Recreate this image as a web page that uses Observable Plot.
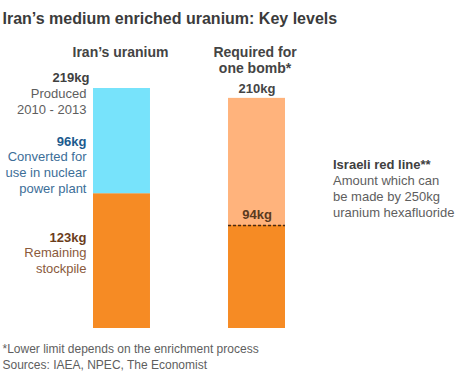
<!DOCTYPE html>
<html><head><meta charset="utf-8">
<script src="https://cdn.jsdelivr.net/npm/d3@7"></script>
<script src="https://cdn.jsdelivr.net/npm/@observablehq/plot@0.6"></script>
<style>
body{margin:0;background:#fff;overflow:hidden}
#chart svg{display:block;font-family:"Liberation Sans",Arial,Helvetica,sans-serif}
</style>
</head><body><div id="chart"></div><script>
// ---- data ----
const bars = ["Iran's uranium", "Required for one bomb*"];
const segBar = [bars[0], bars[0], bars[1], bars[1]];
const segName = ["Remaining stockpile", "Converted", "Lower limit", "Upper limit"];
const segFrom = [0, 123, 0, 94];
const segTo = [123, 219, 94, 210];
const redLine = 164;
const lowerLimit = 94;
const upperLimit = 210;
const produced = 219;
const remaining = 123;
const title = "Iran\u2019s medium enriched uranium: Key levels";
const barTitles = ["Iran\u2019s uranium", "Required for\none bomb*"];
const leftHeads = ["219kg", "96kg", "123kg"];
const leftBodies = ["Produced\n2010 - 2013", "Converted for\nuse in nuclear\npower plant", "Remaining\nstockpile"];
const redHead = "Israeli red line**";
const redBody = "Amount which can\nbe made by 250kg\nuranium hexafluoride";
const footer = "*Lower limit depends on the enrichment process\nSources: IAEA, NPEC, The Economist";

const segs = segBar.map((b, i) => ({bar: b, name: segName[i], from: segFrom[i], to: segTo[i]}));
const fs = 13;
const lh = 16 / 13;

// one annotation anchored on a bar (x) and a value (y), offset in pixels
function label(bar, value, text, opts) {
  return Plot.text([value], {x: () => bar, y: d => d, text: () => text, lineAnchor: "bottom",
    fontSize: fs, lineHeight: lh, ...opts});
}

const chart = Plot.plot({
  width: 464, height: 380, margin: 0,
  style: {fontFamily: '"Liberation Sans", Arial, Helvetica, sans-serif', background: "#fff"},
  x: {type: "band", domain: bars, range: [93, 285], paddingInner: 0.578, paddingOuter: 0, round: false, axis: null},
  y: {domain: [0, produced], range: [328, 88], axis: null},
  color: {domain: segName, range: ["#f68b24", "#77e3fb", "#f68b24", "#ffb37c"]},
  marks: [
    // bar 2 segments
    Plot.rectY(segs.filter(d => d.bar === bars[1]), {x: "bar", y1: "from", y2: "to", fill: "name", inset: 0}),
    // Israeli red line
    Plot.ruleY([redLine], {x1: () => bars[0], stroke: "#a5141d", strokeWidth: 2, strokeDasharray: "6,3"}),
    // bar 1 segments (cover start of rule)
    Plot.rectY(segs.filter(d => d.bar === bars[0]), {x: "bar", y1: "from", y2: "to", fill: "name", inset: 0}),
    // lower-limit dashed rule inside bar 2
    Plot.ruleY([lowerLimit], {x1: () => bars[1], x2: () => bars[1], stroke: "#4a2a12", strokeWidth: 1.5, strokeDasharray: "3,2"}),
    // title
    Plot.text([title], {frameAnchor: "top-left", text: d => d, dx: 2, dy: 23, lineAnchor: "bottom", textAnchor: "start",
      fontSize: 16, fontWeight: "bold", fill: "#3b3b3b"}),
    // bar titles
    label(bars[0], produced, barTitles[0], {dx: -1.5, dy: -31.3, fontSize: 14, fontWeight: "bold", fill: "#444"}),
    label(bars[1], upperLimit, barTitles[1], {dx: -2, dy: -25.2, fontSize: 14, lineHeight: 16 / 14, fontWeight: "bold", fill: "#444"}),
    // value labels on bar 2
    label(bars[1], upperLimit, upperLimit + "kg", {dy: -5, fontWeight: "bold", fill: "#444"}),
    label(bars[1], lowerLimit, lowerLimit + "kg", {dy: -6, fontWeight: "bold", fill: "#5a3a20"}),
    // left label heads
    label(bars[0], produced, leftHeads[0], {dx: -32.5, dy: -7, textAnchor: "end", fontWeight: "bold", fill: "#404040"}),
    label(bars[0], remaining, leftHeads[1], {dx: -35.5, dy: -48, textAnchor: "end", fontWeight: "bold", fill: "#1b5a8e"}),
    label(bars[0], remaining, leftHeads[2], {dx: -35.5, dy: 48, textAnchor: "end", fontWeight: "bold", fill: "#6b3d1c"}),
    // left label bodies
    label(bars[0], produced, leftBodies[0], {dx: -35.5, dy: 25, textAnchor: "end", fill: "#5e5e5e"}),
    label(bars[0], remaining, leftBodies[1], {dx: -35.5, dy: -1, textAnchor: "end", fill: "#3c6e98"}),
    label(bars[0], remaining, leftBodies[2], {dx: -35.5, dy: 79, textAnchor: "end", fill: "#8a5a3c"}),
    // red line annotation
    label(bars[1], redLine, redHead, {dx: 76, dy: 20, textAnchor: "start", fontWeight: "bold", fill: "#404040"}),
    label(bars[1], redLine, redBody, {dx: 76, dy: 68, textAnchor: "start", fill: "#5e5e5e"}),
    // footer
    Plot.text([footer], {frameAnchor: "top-left", text: d => d, dx: 2, dy: 368, lineAnchor: "bottom", textAnchor: "start",
      lineHeight: 16 / 12, fontSize: 12, fill: "#5e5e5e"})
  ]
});
document.getElementById("chart").append(chart);
</script></body></html>
